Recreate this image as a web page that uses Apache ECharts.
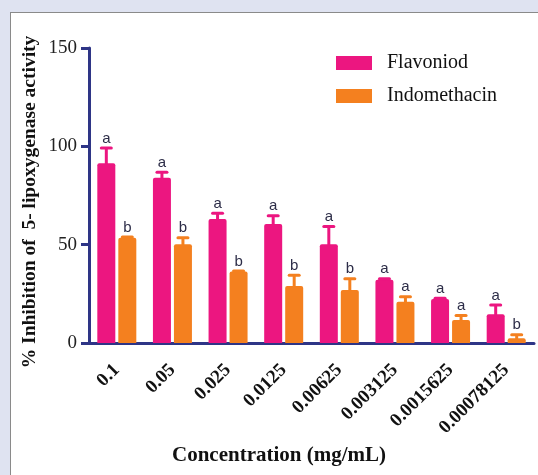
<!DOCTYPE html>
<html>
<head>
<meta charset="utf-8">
<script src="https://cdn.jsdelivr.net/npm/echarts@6/dist/echarts.min.js"></script>
<style>
html,body{margin:0;padding:0;background:#dfe3f1;}
#frame{position:absolute;left:10px;top:12px;width:540px;height:480px;background:#fff;border-left:1.5px solid #8a8a8a;border-top:1.5px solid #8a8a8a;}
#chart{position:absolute;left:0;top:0;width:538px;height:475px;}
</style>
</head>
<body>
<div id="frame"></div>
<div id="chart"></div>
<script>
var categories = ['0.1','0.05','0.025','0.0125','0.00625','0.003125','0.0015625','0.00078125'];
var flavonoid = [91.4, 84, 63, 60.5, 50.2, 32.2, 22.4, 14.6];
var flavonoidErr = [7.8, 2.8, 3, 4.2, 9, 0.5, 0.3, 4.7];
var flavonoidLetters = ['a','a','a','a','a','a','a','a'];
var indomethacin = [53.5, 50.2, 36.3, 29, 27, 21, 11.7, 2.4];
var indomethacinErr = [0.4, 3.3, 0.3, 5.4, 5.7, 2.5, 2.3, 1.8];
var indomethacinLetters = ['b','b','b','b','b','a','a','b'];
var yTicks = [0, 50, 100, 150];

var PINK = '#ec1680', ORANGE = '#f4801f', NAVY = '#2e3586';
var BAR_W = 18, BAR_GAP = 3;
var SERIF = '"Liberation Serif","Times New Roman",serif';

function errSeries(vals, errs, letters, color, dir){
  var data = vals.map(function(v,i){ return [i, v, errs[i]]; });
  return {
    type:'custom', coordinateSystem:'cartesian2d', z:5,
    encode:{x:0, y:1},
    data:data,
    renderItem:function(params, api){
      var i = api.value(0), v = api.value(1), e = api.value(2);
      var base = api.coord([i, v]);
      var top = api.coord([i, v + e]);
      var x = base[0] + dir * (BAR_W + BAR_GAP) / 2;
      return {type:'group', children:[
        {type:'line', shape:{x1:x, y1:base[1]+1, x2:x, y2:top[1]}, style:{stroke:color, lineWidth:3}},
        {type:'line', shape:{x1:x-5, y1:top[1], x2:x+5, y2:top[1]}, style:{stroke:color, lineWidth:3, lineCap:'round'}},
        {type:'text', x:x, y:top[1]-2, style:{text:letters[i], textAlign:'center', textVerticalAlign:'bottom', fill:'#2d2d48', font:'15px "Liberation Sans", Arial, sans-serif'}}
      ]};
    }
  };
}

var chart = echarts.init(document.getElementById('chart'));
chart.setOption({
  animation:false,
  backgroundColor:'transparent',
  grid:{left:89, right:4, top:48, bottom:132, containLabel:false},
  legend:{
    orient:'vertical', left:336, top:53, padding:0, itemGap:13,
    itemWidth:36, itemHeight:14, icon:'rect',
    textStyle:{fontFamily:SERIF, fontSize:20, color:'#111', padding:[0,0,0,10]},
    data:['Flavoniod','Indomethacin']
  },
  xAxis:{
    type:'category', data:categories,
    axisLine:{lineStyle:{color:NAVY, width:3}},
    axisTick:{alignWithLabel:true, length:8, lineStyle:{color:NAVY, width:3}},
    axisLabel:{rotate:45, margin:24, interval:0, fontFamily:SERIF, fontWeight:'bold', fontSize:19, color:'#111'}
  },
  yAxis:{
    type:'value', min:0, max:150, interval:50,
    axisLine:{show:true, lineStyle:{color:NAVY, width:3}},
    axisTick:{show:true, length:8, lineStyle:{color:NAVY, width:3}},
    axisLabel:{margin:12, fontFamily:SERIF, fontSize:19, color:'#222'},
    splitLine:{show:false}
  },
  graphic:[
    {type:'text', x:30, y:202, rotation:Math.PI/2, style:{text:'% Inhibition of  5- lipoxygenase activity', textAlign:'center', textVerticalAlign:'middle', font:'bold 19.5px '+SERIF, fill:'#111'}},
    {type:'text', x:279, y:456, style:{text:'Concentration (mg/mL)', textAlign:'center', textVerticalAlign:'middle', font:'bold 21px '+SERIF, fill:'#111'}}
  ],
  series:[
    {name:'Flavoniod', type:'bar', data:flavonoid, barWidth:BAR_W, barGap:(BAR_GAP/BAR_W*100)+'%', itemStyle:{color:PINK, borderRadius:[2,2,0,0]}},
    {name:'Indomethacin', type:'bar', data:indomethacin, barWidth:BAR_W, itemStyle:{color:ORANGE, borderRadius:[2,2,0,0]}},
    errSeries(flavonoid, flavonoidErr, flavonoidLetters, PINK, -1),
    errSeries(indomethacin, indomethacinErr, indomethacinLetters, ORANGE, 1)
  ]
});
</script>
</body>
</html>
